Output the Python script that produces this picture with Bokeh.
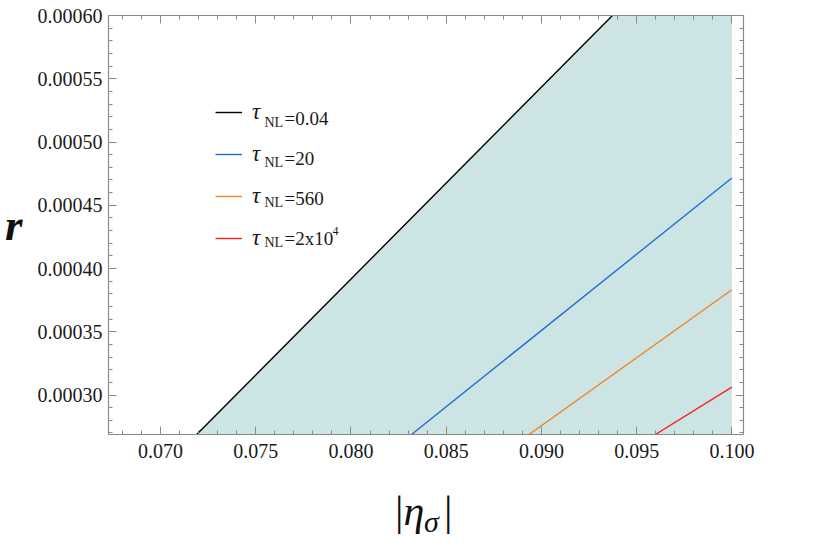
from bokeh.plotting import figure
from bokeh.models import (Range1d, LinearAxis, FixedTicker, CustomJSTickFormatter,
                          Label, Legend, LegendItem, Div)
from bokeh.layouts import column
from bokeh.embed import file_html
from bokeh.resources import INLINE
from bokeh.core.properties import value
import numpy as np

# ---------------- data ----------------
x_lo, x_hi = 0.06727, 0.10061
y_lo, y_hi = 0.0002688, 0.0006

# straight lines r(|eta_sigma|), two points each (|eta|, r)
black_eta = [0.07190, 0.09373]
black_r = [0.0002688, 0.0006]
blue_eta = [0.08318, 0.1]
blue_r = [0.0002688, 0.0004716]
orange_eta = [0.08935, 0.1]
orange_r = [0.0002688, 0.0003832]
red_eta = [0.09598, 0.1]
red_r = [0.0002688, 0.0003062]
eta_max = 0.1

tau_main = ["0.04", "20", "560", "2x10"]
tau_sup = ["", "", "", "4"]
line_colors = ["#000000", "#1f6fd0", "#f5801e", "#ff1f1f"]
fill_color = "#cce5e4"

x_ticks = [0.070, 0.075, 0.080, 0.085, 0.090, 0.095, 0.100]
x_tick_labels = ["0.070", "0.075", "0.080", "0.085", "0.090", "0.095", "0.100"]
y_ticks = [0.00030, 0.00035, 0.00040, 0.00045, 0.00050, 0.00055, 0.00060]
y_tick_labels = ["0.00030", "0.00035", "0.00040", "0.00045", "0.00050", "0.00055", "0.00060"]
x_minor = [round(v, 4) for v in np.arange(0.068, 0.1005, 0.001)]
y_minor = [round(v, 7) for v in np.arange(0.00027, 0.000601, 0.00001)]

# ---------------- figure ----------------
W, H = 816, 490
ML, MR, MT, MB = 108, 73, 15, 56
p = figure(width=W, height=H, x_range=Range1d(x_lo, x_hi), y_range=Range1d(y_lo, y_hi),
           output_backend="svg", toolbar_location=None,
           min_border_left=ML, min_border_right=MR, min_border_top=MT, min_border_bottom=MB)
p.xgrid.visible = False
p.ygrid.visible = False
p.outline_line_color = None
p.background_fill_color = "white"
p.border_fill_color = "white"

# shaded region right of the black line
p.patch(x=[black_eta[0], black_eta[1], eta_max, eta_max],
        y=[black_r[0], black_r[1], black_r[1], black_r[0]],
        fill_color=fill_color, line_color=None)

renderers = []
for xs, ys, c in [(black_eta, black_r, line_colors[0]), (blue_eta, blue_r, line_colors[1]),
                  (orange_eta, orange_r, line_colors[2]), (red_eta, red_r, line_colors[3])]:
    renderers.append(p.line(x=xs, y=ys, line_color=c, line_width=1.4))

frame_col = "#8a8a8a"
fmt_x = CustomJSTickFormatter(args=dict(tvals=x_ticks, tlabels=x_tick_labels), code="""
const i = tvals.findIndex(t => Math.abs(t - tick) < 1e-9); return i >= 0 ? tlabels[i] : '';""")
fmt_y = CustomJSTickFormatter(args=dict(tvals=y_ticks, tlabels=y_tick_labels), code="""
const i = tvals.findIndex(t => Math.abs(t - tick) < 1e-11); return i >= 0 ? tlabels[i] : '';""")
fmt_none = CustomJSTickFormatter(code="return '';")

def style(ax, standoff):
    ax.axis_line_color = frame_col
    ax.axis_line_width = 1.2
    ax.major_tick_line_color = frame_col
    ax.minor_tick_line_color = frame_col
    ax.major_tick_in = 8
    ax.major_tick_out = 0
    ax.minor_tick_in = 4
    ax.minor_tick_out = 0
    ax.major_label_text_font = "Liberation Serif"
    ax.major_label_text_font_size = "20px"
    ax.major_label_text_color = "#1a1a1a"
    ax.major_label_standoff = standoff

p.xaxis.ticker = FixedTicker(ticks=x_ticks, minor_ticks=x_minor)
p.xaxis.formatter = fmt_x
p.yaxis.ticker = FixedTicker(ticks=y_ticks, minor_ticks=y_minor)
p.yaxis.formatter = fmt_y
style(p.xaxis[0], 9)
style(p.yaxis[0], 6)

ya = p.yaxis[0]
ya.axis_label = "r"
ya.axis_label_orientation = "horizontal"
ya.axis_label_text_font = "Liberation Serif"
ya.axis_label_text_font_style = "bold italic"
ya.axis_label_text_font_size = "45px"
ya.axis_label_text_color = "#111111"
ya.axis_label_standoff = 12

top = LinearAxis(ticker=FixedTicker(ticks=x_ticks, minor_ticks=x_minor), formatter=fmt_none)
right = LinearAxis(ticker=FixedTicker(ticks=y_ticks, minor_ticks=y_minor), formatter=fmt_none)
style(top, 0)
style(right, 0)
p.add_layout(top, "above")
p.add_layout(right, "right")

# frame geometry in page coordinates (for annotation placement)
frame_left_page = ML
frame_bottom_page = H - MB
Y_ADJ = 8  # empirical vertical correction for screen-unit annotations

def sx(px):
    return px - frame_left_page

def sy(py):
    return frame_bottom_page - py + Y_ADJ

# legend (samples + tau)
legend = Legend(items=[LegendItem(label=value("τ"), renderers=[r]) for r in renderers],
                location=(sx(215), sy(251.3) - Y_ADJ), glyph_width=27, glyph_height=24,
                label_height=24, spacing=16, padding=0, margin=0, label_standoff=10,
                border_line_color=None, background_fill_alpha=0,
                label_text_font="Liberation Serif", label_text_font_style="italic",
                label_text_font_size="23px", label_text_color="#1a1a1a")
p.add_layout(legend)

for i in range(len(tau_main)):
    p.add_layout(Label(x=sx(264), y=sy(129.5 + 40 * i), x_units="screen", y_units="screen",
                       text="NL", text_font="Liberation Serif", text_font_size="14px",
                       text_color="#1a1a1a", text_baseline="alphabetic"))
    p.add_layout(Label(x=sx(284), y=sy(125.5 + 40 * i), x_units="screen", y_units="screen",
                       text="=" + tau_main[i], text_font="Liberation Serif", text_font_size="19px",
                       text_color="#1a1a1a", text_baseline="alphabetic"))
    if tau_sup[i]:
        p.add_layout(Label(x=sx(332), y=sy(118.5 + 40 * i), x_units="screen", y_units="screen",
                           text=tau_sup[i], text_font="Liberation Serif", text_font_size="12px",
                           text_color="#1a1a1a", text_baseline="alphabetic"))

# x-axis title with subscript, as real HTML text below the figure
xlabel_html = """
<div style="position:relative;width:816px;height:54px;font-family:'Liberation Serif';color:#111111;">
<span style="position:absolute;left:395px;top:0px;font-size:42px;line-height:42px;">|<i>&eta;</i></span>
<span style="position:absolute;left:424px;top:17px;font-size:30px;line-height:30px;font-style:italic;">&sigma;</span>
<span style="position:absolute;left:444px;top:0px;font-size:42px;line-height:42px;">|</span>
</div>"""
xdiv = Div(text=xlabel_html, width=816, height=54, margin=0)

layout = column(p, xdiv, spacing=0)
open("out.html", "w").write(file_html(layout, INLINE))
